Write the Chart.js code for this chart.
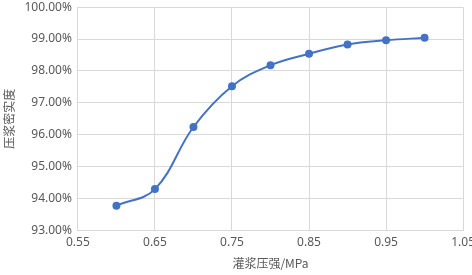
<!DOCTYPE html>
<html>
<head>
<meta charset="utf-8">
<script src="https://cdn.jsdelivr.net/npm/chart.js@4/dist/chart.umd.min.js"></script>
<style>
  html, body { margin: 0; padding: 0; background: #fff; }
  #frame { width: 472px; height: 275px; overflow: hidden; position: relative; }
  #wrap { position: absolute; left: 0; top: -6px; width: 480px; height: 281px; }
</style>
</head>
<body>
<div id="frame"><div id="wrap"><canvas id="chart"></canvas></div></div>
<script>
// grouting pressure (MPa) vs. grout compactness (%)
const pressures = [0.60, 0.65, 0.70, 0.75, 0.80, 0.85, 0.90, 0.95, 1.00];
const compactness = [93.77, 94.29, 96.24, 97.52, 98.18, 98.54, 98.83, 98.96, 99.04];

const xTitle = '灌浆压强/MPa';
const yTitle = '压浆密实度';

const gridColor = '#d9d9d9';
const textColor = '#595959';
const lineColor = '#4472c4';

const points = pressures.map((p, i) => ({ x: p, y: compactness[i] }));

new Chart(document.getElementById('chart'), {
  type: 'scatter',
  data: {
    datasets: [{
      data: points,
      showLine: true,
      borderColor: lineColor,
      backgroundColor: lineColor,
      borderWidth: 2,
      pointRadius: 3,
      pointHoverRadius: 3,
      tension: 0.38
    }]
  },
  options: {
    responsive: true,
    maintainAspectRatio: false,
    animation: false,
    layout: { padding: { top: 0, right: 0, left: 2, bottom: 4 } },
    plugins: { legend: { display: false }, tooltip: { enabled: false } },
    scales: {
      x: {
        type: 'linear',
        min: 0.55,
        max: 1.05,
        ticks: {
          stepSize: 0.1,
          color: textColor,
          font: { family: 'Noto Sans', size: 12 },
          padding: 5,
          callback: v => v.toFixed(2)
        },
        grid: { color: gridColor, lineWidth: 1, drawTicks: false },
        border: { color: gridColor },
        title: {
          display: true,
          text: xTitle,
          color: textColor,
          font: { family: '"Noto Sans CJK SC", "Noto Sans"', size: 12 },
          padding: { top: 2, bottom: 0 }
        }
      },
      y: {
        min: 93,
        max: 100,
        ticks: {
          stepSize: 1,
          color: textColor,
          font: { family: 'Noto Sans', size: 12 },
          padding: 6,
          callback: v => v.toFixed(2) + '%'
        },
        grid: { color: gridColor, lineWidth: 1, drawTicks: false },
        border: { color: gridColor },
        title: {
          display: true,
          text: yTitle,
          color: textColor,
          font: { family: '"Noto Sans CJK SC"', size: 12 },
          padding: { top: 0, bottom: 2 }
        }
      }
    }
  }
});
</script>
</body>
</html>
